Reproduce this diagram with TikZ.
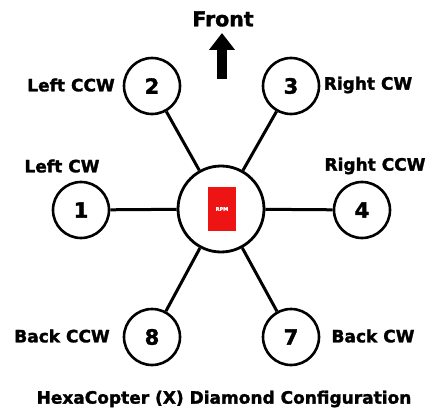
\documentclass[tikz,border=0pt]{standalone}
\usepackage{fontspec}
\setmainfont{DejaVu Sans}[BoldFeatures={FakeBold=1.6}]
\usetikzlibrary{arrows.meta}
\definecolor{rpmred}{RGB}{238,20,20}
\tikzset{
  motor/.style={circle, draw=black, line width=2.6pt, fill=white, minimum size=56pt, inner sep=0pt,
    font=\fontsize{21}{21}\selectfont\bfseries},
  hub/.style={circle, draw=black, line width=2.8pt, fill=white, minimum size=86pt, inner sep=0pt},
  arm/.style={line width=3pt, draw=black},
  lbl/.style={font=\fontsize{17}{18}\selectfont\bfseries, inner sep=0pt},
  title/.style={font=\fontsize{17}{17}\selectfont\bfseries, inner sep=0pt},
  rpmbox/.style={fill=rpmred, minimum width=28pt, minimum height=44pt, inner sep=0pt,
    text=white, font=\fontsize{5}{5}\selectfont\bfseries}
}
\begin{document}
\begin{tikzpicture}[x=1pt,y=-1pt]
\useasboundingbox (0,0) rectangle (428,409);
% hub and motors
\node[hub] (hub) at (221,209) {};
\node[rpmbox] (rpm) at (222,209) {RPM};
\node[motor] (m1) at (81,210) {1};
\node[motor] (m2) at (152,86) {2};
\node[motor] (m3) at (291,86) {3};
\node[motor] (m4) at (362,210) {4};
\node[motor] (m7) at (291,337) {7};
\node[motor] (m8) at (152,337) {8};
% arms
\foreach \m in {m1,m2,m3,m4,m7,m8}
  \draw[arm] (hub) -- (\m);
% heading arrow
\node[font=\fontsize{20.5}{21}\selectfont\bfseries, inner sep=0pt] (front) at (223,19) {Front};
\coordinate (ab) at (222,79);
\coordinate (at) at (222,33);
\draw[line width=10pt, -{Triangle[width=25pt,length=17pt]}] (ab) -- (at);
% labels
\node[lbl] (l2) at (71,85) {Left CCW};
\node[lbl] (l1) at (62,166) {Left CW};
\node[lbl] (l3) at (368,85) {Right CW};
\node[lbl] (l4) at (375,166) {Right CCW};
\node[lbl] (l8) at (62,336) {Back CCW};
\node[lbl] (l7) at (373,336) {Back CW};
\node[title] (t) at (224,399) {HexaCopter (X) Diamond Configuration};
\end{tikzpicture}
\end{document}
